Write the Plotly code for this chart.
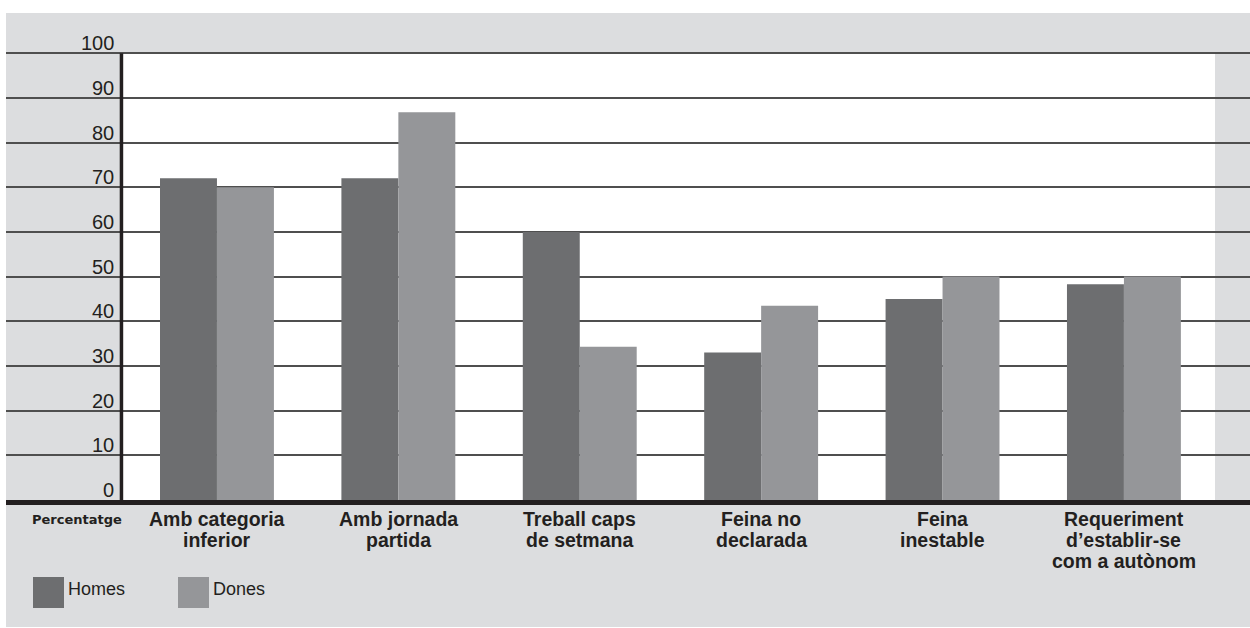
import plotly.graph_objects as go

# ---------------- data ----------------
categories = [
    "Amb categoria\ninferior",
    "Amb jornada\npartida",
    "Treball caps\nde setmana",
    "Feina no\ndeclarada",
    "Feina\ninestable",
    "Requeriment\nd’establir-se\ncom a autònom",
]
series_names = ["Homes", "Dones"]
homes = [72, 72, 60, 33, 45, 48.3]
dones = [70, 86.8, 34.3, 43.5, 50, 50]
y_ticks = [0, 10, 20, 30, 40, 50, 60, 70, 80, 90, 100]
y_axis_label = "Percentatge"

# ---------------- style ----------------
W, H = 1250, 628
GREY_BG = "#dcdddf"
HOMES_C = "#6d6e70"
DONES_C = "#959699"
GRID_C = "#4f4f4f"
TXT = "#231f20"
FONT = "Liberation Sans"

Y_RANGE = [0, 100.5]
X_RANGE = [-1.163, 5.695]
series_values = [homes, dones]
series_colors = [HOMES_C, DONES_C]

fig = go.Figure()
for name, vals, col in zip(series_names, series_values, series_colors):
    fig.add_trace(go.Bar(
        name=name, x=[c.replace("\n", " ") for c in categories], y=vals,
        marker=dict(color=col, line=dict(width=0)),
        showlegend=False,
    ))

shapes = []
# grey strips above and below the plot area
shapes.append(dict(type="rect", xref="paper", yref="paper", ysizemode="pixel",
                   yanchor=1, y0=0, y1=38, x0=0, x1=1,
                   fillcolor=GREY_BG, line=dict(width=0), layer="below"))
shapes.append(dict(type="rect", xref="paper", yref="paper", ysizemode="pixel",
                   yanchor=0, y0=-127, y1=0, x0=0, x1=1,
                   fillcolor=GREY_BG, line=dict(width=0), layer="below"))
# white plotting field
shapes.append(dict(type="rect", xref="x", yref="y", x0=-0.518, x1=5.502,
                   y0=y_ticks[0], y1=y_ticks[-1],
                   fillcolor="white", line=dict(width=0), layer="below"))
# vertical axis line
shapes.append(dict(type="line", xref="x", yref="y", x0=-0.5265, x1=-0.5265,
                   y0=y_ticks[0], y1=y_ticks[-1],
                   line=dict(color="#231f20", width=3.5), layer="above"))
# thick baseline
shapes.append(dict(type="rect", xref="paper", yref="y domain", ysizemode="pixel",
                   yanchor=0, y0=-5, y1=0, x0=0, x1=1,
                   fillcolor="#231f20", line=dict(width=0), layer="above"))
# legend swatches
for i, col in enumerate(series_colors):
    x0 = 27 + i * 145
    shapes.append(dict(type="rect", xref="paper", yref="paper",
                       xsizemode="pixel", ysizemode="pixel",
                       xanchor=0, yanchor=0, x0=x0, x1=x0 + 31, y0=-77, y1=-108,
                       fillcolor=col, line=dict(width=0), layer="above"))

annotations = []
# y tick labels, sitting just above their gridlines
for v in y_ticks:
    annotations.append(dict(xref="x", yref="y", x=-0.557, y=v, text=str(v),
                            xanchor="right", yanchor="bottom", showarrow=False,
                            yshift=-3, font=dict(family=FONT, size=20, color=TXT)))
# category labels (one annotation per line for tight line spacing)
for i, cat in enumerate(categories):
    for k, line in enumerate(cat.split("\n")):
        annotations.append(dict(xref="x", yref="y domain", x=i, y=0, text="<b>%s</b>" % line,
                                xanchor="center", yanchor="top", showarrow=False,
                                yshift=-6 - 21 * k,
                                font=dict(family=FONT, size=19.5, color=TXT)))
annotations.append(dict(xref="paper", yref="y domain", x=0, y=0, xshift=71,
                        text="<b>%s</b>" % y_axis_label, xanchor="center", yanchor="top",
                        yshift=-10, showarrow=False,
                        font=dict(family="DejaVu Sans", size=13, color=TXT)))
# legend labels
for i, name in enumerate(series_names):
    annotations.append(dict(xref="paper", yref="paper", x=0, y=0, xshift=60 + i * 145,
                            yshift=-89, text=name, xanchor="left", yanchor="middle",
                            showarrow=False, font=dict(family=FONT, size=18, color=TXT)))

fig.update_layout(
    width=W, height=H,
    margin=dict(l=6, r=0, t=51, b=128, pad=0),
    paper_bgcolor="white", plot_bgcolor=GREY_BG,
    barmode="group", bargap=0.372, bargroupgap=0,
    xaxis=dict(range=X_RANGE, showticklabels=False, showgrid=False, zeroline=False,
               showline=False, ticks=""),
    yaxis=dict(range=Y_RANGE, tickvals=y_ticks, showticklabels=False, ticks="",
               showgrid=True, gridcolor=GRID_C, gridwidth=1.5, zeroline=False,
               showline=False),
    shapes=shapes, annotations=annotations,
    showlegend=False,
)

fig.write_html("out.html", config={"displayModeBar": False},
               post_script="document.body.style.margin='0';")
